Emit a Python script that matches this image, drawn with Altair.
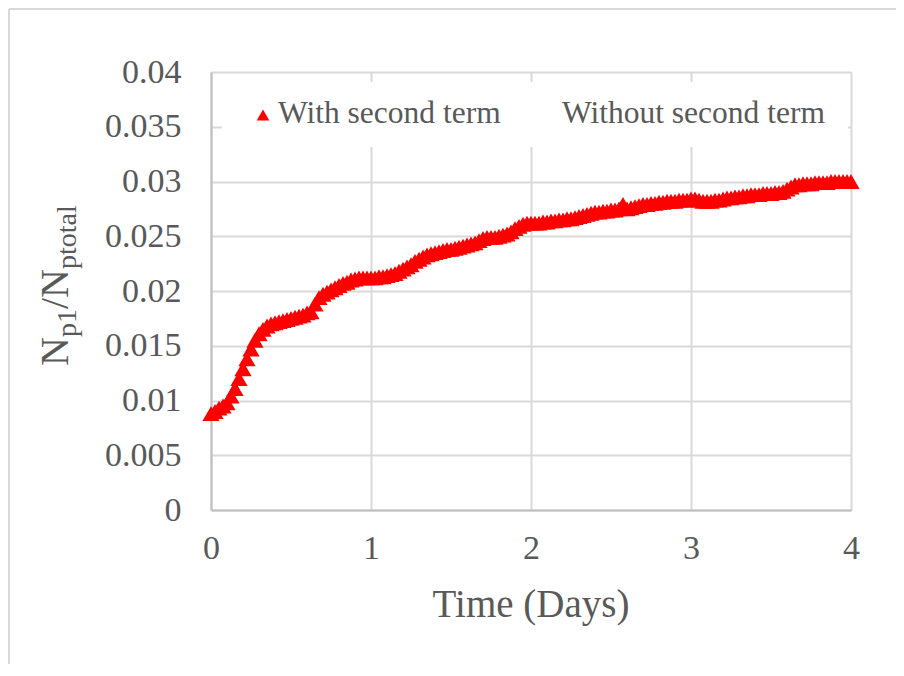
import altair as alt
import pandas as pd

# Time (days), step 0.025
days = [round(i * 0.025, 3) for i in range(161)]
ratio = [
    0.0088, 0.0090, 0.0093, 0.0095, 0.0098, 0.0104, 0.0111, 0.0120, 0.0129, 0.0138,
    0.0147, 0.0155, 0.0161, 0.0165, 0.0168, 0.0170, 0.0171, 0.0172, 0.0173, 0.0174,
    0.0175, 0.0176, 0.0177, 0.0178, 0.0180, 0.0181, 0.0188, 0.0194, 0.0197, 0.0199,
    0.0201, 0.0203, 0.0205, 0.0207, 0.0208, 0.0210, 0.0211, 0.0212, 0.0212, 0.0212,
    0.0212, 0.0212, 0.0213, 0.0213, 0.0214, 0.0215, 0.0216, 0.0218, 0.0220, 0.0222,
    0.0224, 0.0227, 0.0229, 0.0231, 0.0233, 0.0234, 0.0235, 0.0236, 0.0237, 0.0238,
    0.0238, 0.0239, 0.0240, 0.0241, 0.0242, 0.0243, 0.0244, 0.0246, 0.0248, 0.0249,
    0.0249, 0.0249, 0.0250, 0.0251, 0.0252, 0.0254, 0.0257, 0.0259, 0.0261, 0.0262,
    0.0262, 0.0262, 0.0262, 0.0263, 0.0263, 0.0264, 0.0264, 0.0265, 0.0265, 0.0266,
    0.0266, 0.0267, 0.0268, 0.0269, 0.0270, 0.0271, 0.0272, 0.0272, 0.0273, 0.0273,
    0.0274, 0.0274, 0.0275, 0.0279, 0.0275, 0.0276, 0.0277, 0.0278, 0.0279, 0.0279,
    0.0280, 0.0280, 0.0281, 0.0281, 0.0282, 0.0282, 0.0282, 0.0283, 0.0283, 0.0283,
    0.0284, 0.0284, 0.0283, 0.0282, 0.0282, 0.0282, 0.0283, 0.0283, 0.0284, 0.0285,
    0.0285, 0.0286, 0.0286, 0.0287, 0.0287, 0.0288, 0.0288, 0.0288, 0.0289, 0.0289,
    0.0289, 0.0290, 0.0290, 0.0291, 0.0293, 0.0295, 0.0297, 0.0297, 0.0298, 0.0298,
    0.0298, 0.0299, 0.0299, 0.0299, 0.0299, 0.0300, 0.0300, 0.0300, 0.0300, 0.0300,
    0.0300,
]
series_names = ["With second term", "Without second term"]
x_ticks = [0, 1, 2, 3, 4]
y_ticks = [0, 0.005, 0.01, 0.015, 0.02, 0.025, 0.03, 0.035, 0.04]

df = pd.DataFrame({"t": days, "v": ratio})

W, H = 640, 438
FONT = "Liberation Serif"
GREY = "#595959"

x_scale = alt.Scale(domain=[0, 4], nice=False, zero=False)
y_scale = alt.Scale(domain=[0, 0.04], nice=False)

base = alt.Chart(df)

points = base.mark_point(
    shape="triangle-up", filled=True, size=295, color="#ff0000", opacity=1
).encode(
    x=alt.X("t:Q", scale=x_scale,
            axis=alt.Axis(values=x_ticks, title=None, grid=True, ticks=False,
                          labelPadding=21, labelFlush=False, format="d")),
    y=alt.Y("v:Q", scale=y_scale,
            axis=alt.Axis(values=y_ticks, title=None, grid=True, ticks=False,
                          labelPadding=30, labelFlush=False,
                          labelExpr="datum.value == 0 ? '0' : format(datum.value, '.3~f')")),
)

one = pd.DataFrame({"a": [0]})
deco = alt.Chart(one)

legend_box = deco.mark_rect(fill="white").encode(
    x=alt.value(11), x2=alt.value(637), y=alt.value(10), y2=alt.value(75)
)
legend_sym = deco.mark_point(shape="triangle-up", filled=True, size=160,
                             color="#ff0000", opacity=1).encode(
    x=alt.value(52), y=alt.value(43)
)
legend_t1 = deco.mark_text(text=series_names[0], font=FONT, fontSize=31.5, color=GREY,
                           align="left", baseline="middle").encode(
    x=alt.value(67), y=alt.value(42)
)
legend_t2 = deco.mark_text(text=series_names[1], font=FONT, fontSize=31.5, color=GREY,
                           align="left", baseline="middle").encode(
    x=alt.value(351), y=alt.value(42)
)

x_title = deco.mark_text(text="Time (Days)", font=FONT, fontSize=39, color=GREY,
                         align="center", baseline="middle").encode(
    x=alt.value(320), y=alt.value(533)
)

# y-axis title with subscripts, rotated
def ypiece(txt, size, xv, yv):
    return deco.mark_text(text=txt, font=FONT, fontSize=size, color=GREY,
                          align="left", baseline="alphabetic", angle=270).encode(
        x=alt.value(xv), y=alt.value(yv)
    )

y_title = (ypiece("N", 40, -143, 294) + ypiece("p1", 28, -135, 265)
           + ypiece("/N", 40, -143, 237) + ypiece("ptotal", 28, -135, 197))

border_top = deco.mark_rule(color="#d9d9d9", strokeWidth=2).encode(
    x=alt.value(-202), x2=alt.value(720), y=alt.value(-63)
)
border_left = deco.mark_rule(color="#d9d9d9", strokeWidth=2).encode(
    x=alt.value(-202), y=alt.value(-63), y2=alt.value(640)
)

chart = alt.layer(
    points, legend_box, legend_sym, legend_t1, legend_t2, x_title, y_title,
    border_top, border_left
).properties(
    width=W, height=H,
    autosize=alt.AutoSizeParams(type="none"),
    padding={"left": 203, "top": 64, "right": 45, "bottom": 154},
).configure_view(stroke=None).configure(background="white").configure_axis(
    labelFont=FONT, labelFontSize=34, labelColor=GREY,
    domainColor="#bfbfbf", domainWidth=2, gridColor="#d9d9d9", gridWidth=2,
)

chart.save("out.html", embed_options={"renderer": "svg", "actions": False})
